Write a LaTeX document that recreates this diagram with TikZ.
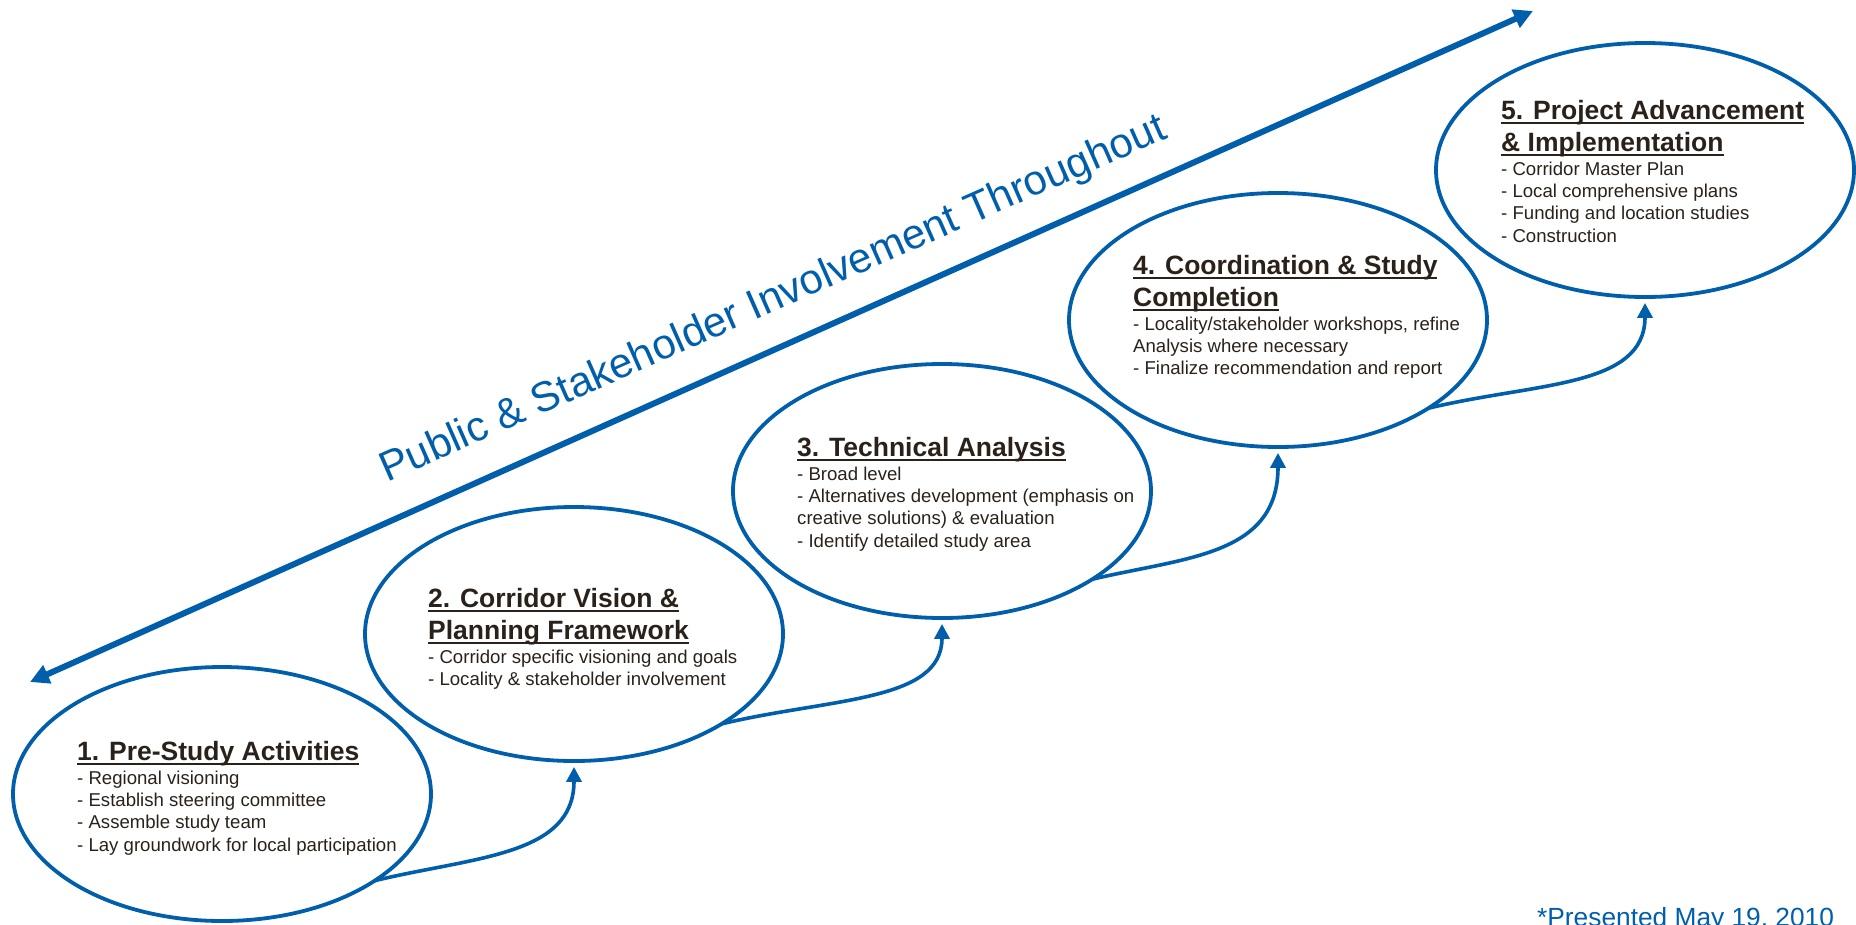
\documentclass[tikz,border=0pt]{standalone}
\usepackage{fontspec}
\setmainfont{Liberation Sans}
\usetikzlibrary{shapes.geometric,arrows.meta,calc}
\definecolor{pblue}{RGB}{0,94,170}
\definecolor{ptext}{RGB}{42,33,26}
\newlength\ulw
\newcommand\myul[1]{\leavevmode\settowidth{\ulw}{#1}\rlap{\rule[-4.6pt]{\ulw}{1.6pt}}#1}
\newcommand\ttlfont{\fontsize{26.5}{32}\selectfont\bfseries}
\newcommand\bdyfont{\fontsize{18.6}{22.3}\selectfont\mdseries}
\newcommand\stagetext[2]{\parbox[t]{430pt}{\raggedright\ttlfont #1\par\vspace{2pt}\bdyfont #2\par}}
\tikzset{
  ell/.style={ellipse, draw=pblue, line width=3.8pt, minimum width=418pt, minimum height=254pt, inner sep=0pt},
  conn/.style={draw=pblue, line width=3.6pt, -{Triangle[width=15pt,length=15pt]}, shorten >=4pt},
  bigarrow/.style={draw=pblue, line width=6pt, {Triangle[width=19pt,length=19pt]}-{Triangle[width=19pt,length=19pt]}},
  stagelbl/.style={anchor=base west, inner sep=0pt, text=ptext},
}
\begin{document}
\begin{tikzpicture}[x=1pt,y=-1pt]
\useasboundingbox (0,0) rectangle (1856,924);

% big arrow
\coordinate (pa) at (30,682);
\coordinate (pb) at (1533,11);
\draw[bigarrow] (pa) -- (pb);
\node[anchor=base, rotate=23.8, inner sep=0pt, text=pblue, font=\fontsize{42}{50}\selectfont] (pub) at (778,310) {Public \& Stakeholder Involvement Throughout};

% ellipses
\node[ell] (e1) at (222,794) {};
\node[ell] (e2) at (574,634) {};
\node[ell] (e3) at (942,491) {};
\node[ell] (e4) at (1278,320) {};
\node[ell] (e5) at (1645,170) {};

% texts
\node[stagelbl] (t1) at (77,760) {\stagetext{\myul{1. Pre-Study Activities}}{- Regional visioning\\- Establish steering committee\\- Assemble study team\\- Lay groundwork for local participation}};
\node[stagelbl] (t2) at (428,607) {\stagetext{\myul{2. Corridor Vision \&}\\\myul{Planning Framework}}{- Corridor specific visioning and goals\\- Locality \& stakeholder involvement}};
\node[stagelbl] (t3) at (797,456) {\stagetext{\myul{3. Technical Analysis}}{- Broad level\\- Alternatives development (emphasis on\\creative solutions) \& evaluation\\- Identify detailed study area}};
\node[stagelbl] (t4) at (1133,274) {\stagetext{\myul{4. Coordination \& Study}\\\myul{Completion}}{- Locality/stakeholder workshops, refine\\Analysis where necessary\\- Finalize recommendation and report}};
\node[stagelbl] (t5) at (1501,119) {\stagetext{\myul{5. Project Advancement}\\\myul{\& Implementation}}{- Corridor Master Plan\\- Local comprehensive plans\\- Funding and location studies\\- Construction}};

% connectors
\coordinate (s1) at ($(e1.center)+(43:209 and 127)$);
\coordinate (s2) at ($(e2.center)+(45:209 and 127)$);
\coordinate (s3) at ($(e3.center)+(44:209 and 127)$);
\coordinate (s4) at ($(e4.center)+(44:209 and 127)$);
\draw[conn] (s1) .. controls +(100,-24) and +(0,93) .. (e2.south);
\draw[conn] (s2) .. controls +(110,-26) and +(0,82) .. (e3.south);
\draw[conn] (s3) .. controls +(93,-22) and +(0,107) .. (e4.south);
\draw[conn] (s4) .. controls +(108,-26) and +(0,89) .. (e5.south);

% footnote
\node[anchor=base west, inner sep=0pt, text=pblue, font=\fontsize{26.3}{30}\selectfont] (note) at (1537,926) {*Presented May 19, 2010};
\end{tikzpicture}
\end{document}
